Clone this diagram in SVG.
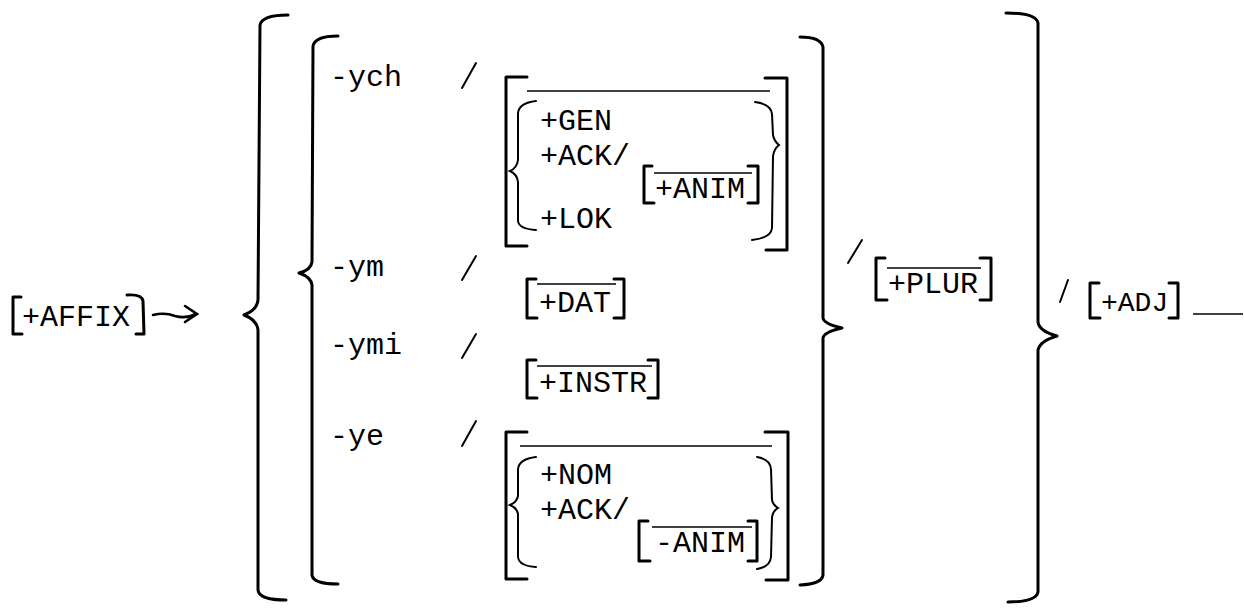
<svg xmlns="http://www.w3.org/2000/svg" width="1244" height="610" viewBox="0 0 1244 610">
<style>
text{font-family:"Liberation Mono","Courier New",monospace;font-size:30px;fill:#000}
.b{fill:none;stroke:#000;stroke-width:3;stroke-linecap:round;stroke-linejoin:round}
.t{fill:none;stroke:#000;stroke-width:2;stroke-linecap:round}
.o{fill:none;stroke:#000;stroke-width:1.6}
</style>
<rect width="1244" height="610" fill="#fff"/>
<g id="affix">
<path class="b" d="M21,297 L13,297 L13,334 L22,334"/>
<text x="22" y="326">+AFFIX</text>
<path class="b" d="M127,295 Q142,294 143,301 L144,334 L136,334"/>
</g>
<g id="connectors">
<path class="t" d="M153,315 Q165,312 175,316 Q186,319 196,314 M185,306 L197,314 L185,322" style="stroke-width:2.6"/>
</g>
<g id="outer-left-brace"><path class="b" d="M288,15 Q262,15 260,25 L258,300 Q257,310 244,315 Q257,320 258,330 L258,590 Q259,600 286,600"/></g>
<g id="inner-left-brace"><path class="b" d="M338,36 Q315,36 313,46 L312,262 Q311,270 299,273 Q311,277 312,285 L312,575 Q313,584 338,584"/></g>
<g id="row-ych">
<text x="330" y="86">-ych</text>
<path class="t" d="M462,88 L476,63"/>
<path class="b" d="M527,77 L506,77 L506,246 L527,246"/>
<path class="o" d="M527,91 L770,91"/>
<path class="b" d="M765,78 L787,78 L787,250 L766,250"/>
<path class="t" d="M536,101 Q519,103 518,113 L518,160 Q517,168 510,171 Q517,174 518,182 L518,221 Q519,229 536,230"/>
<text x="540" y="130">+GEN</text>
<text x="540" y="165">+ACK/</text>
<text x="540" y="228">+LOK</text>
<g id="anim-plus">
<path class="b" d="M652,166 L644,166 L644,203 L654,203"/>
<path class="o" d="M654,173 L752,173"/>
<text x="655" y="198">+ANIM</text>
<path class="b" d="M748,166 L758,166 L758,203 L748,203"/>
</g>
<path class="t" d="M755,102 Q771,104 772,114 L773,135 Q774,141 779,145 Q774,149 773,156 L772,228 Q771,238 752,240"/>
</g>
<g id="row-ym">
<text x="330" y="276">-ym</text>
<path class="t" d="M462,280 L476,256"/>
<path class="b" d="M536,279 L527,279 L527,318 L537,318"/>
<path class="o" d="M537,284 L616,284"/>
<text x="539" y="312">+DAT</text>
<path class="b" d="M614,279 L624,279 L624,318 L614,318"/>
</g>
<g id="row-ymi">
<text x="330" y="354">-ymi</text>
<path class="t" d="M462,358 L476,334"/>
<path class="b" d="M536,360 L527,360 L527,398 L537,398"/>
<path class="o" d="M537,366 L652,366"/>
<text x="539" y="392">+INSTR</text>
<path class="b" d="M648,360 L658,360 L658,398 L648,398"/>
</g>
<g id="row-ye">
<text x="330" y="445">-ye</text>
<path class="t" d="M462,446 L476,421"/>
<path class="b" d="M527,432 L506,432 L506,579 L527,579"/>
<path class="o" d="M520,446 L772,446"/>
<path class="b" d="M765,432 L788,432 L788,580 L766,580"/>
<path class="t" d="M536,457 Q519,459 518,469 L518,496 Q517,502 510,505 Q517,508 518,514 L518,557 Q519,566 536,567"/>
<text x="540" y="484">+NOM</text>
<text x="540" y="519">+ACK/</text>
<g id="anim-minus">
<path class="b" d="M648,521 L639,521 L639,561 L650,561"/>
<path class="o" d="M652,527 L752,527"/>
<text x="655" y="552">-ANIM</text>
<path class="b" d="M748,521 L757,521 L757,561 L748,561"/>
</g>
<path class="t" d="M757,457 Q770,459 771,469 L772,500 Q773,505 778,508 Q773,511 772,517 L771,557 Q770,567 757,569"/>
</g>
<g id="inner-right-brace"><path class="b" d="M800,37 Q821,37 823,47 L823,318 Q824,324 842,328 Q824,332 823,338 L823,575 Q822,584 800,585"/></g>
<g id="plur">
<path class="t" d="M848,263 L862,240"/>
<path class="b" d="M885,258 L876,258 L876,300 L887,300"/>
<path class="o" d="M887,268 L981,268"/>
<text x="888" y="293">+PLUR</text>
<path class="b" d="M980,258 L991,258 L991,300 L980,300"/>
</g>
<g id="outer-right-brace"><path class="b" d="M1006,13 Q1036,13 1038,23 L1038,322 Q1039,331 1057,336 Q1040,341 1038,350 L1038,592 Q1036,602 1008,602"/></g>
<g id="adj">
<path class="t" d="M1060,302 L1068,280"/>
<path class="b" d="M1099,283 L1090,283 L1090,318 L1100,318"/>
<text x="1101" y="311" style="font-size:28px">+ADJ</text>
<path class="b" d="M1169,283 L1178,283 L1178,318 L1169,318"/>
<path class="o" d="M1193,314 L1243,314"/>
</g>
</svg>
